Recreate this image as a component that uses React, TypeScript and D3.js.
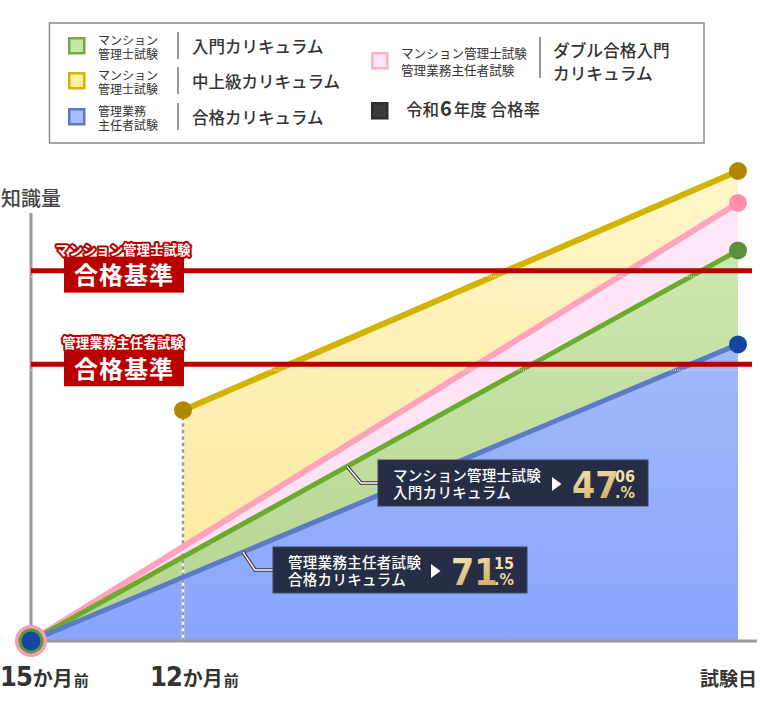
import React, { useRef, useEffect } from 'react';
import * as d3 from 'd3';

// x: months before the exam
const xLabelNums = ['15', '12'];
const xLabelTail = ['か月', '前'];
const xLabelMonths = [15, 12];
const examDayLabel = '試験日';
const examDayMonth = 0;

// knowledge level (0-100)
const startMonths = [15, 0];
const yellowMonths = [12, 0];
const yellowValues = [49.1, 100]; // 中上級カリキュラム
const pinkValues = [0, 93.2]; // ダブル合格入門カリキュラム
const greenValues = [0, 83.1]; // 入門カリキュラム
const blueValues = [0, 63.1]; // 合格カリキュラム

const passLineExams = ['マンション管理士試験', '管理業務主任者試験'];
const passLineValues = [78.8, 58.9];
const passLineLabel = '合格基準';

const calloutExams = ['マンション管理士試験', '管理業務主任者試験'];
const calloutCourses = ['入門カリキュラム', '合格カリキュラム'];
const passRates = [47.06, 71.15];

const legendExamLines = [['マンション', '管理士試験'], ['マンション', '管理士試験'], ['管理業務', '主任者試験']];
const legendCourses = ['入門カリキュラム', '中上級カリキュラム', '合格カリキュラム'];
const doubleExamLines = ['マンション管理士試験', '管理業務主任者試験'];
const doubleCourseLines = ['ダブル合格入門', 'カリキュラム'];
const rateLegend = ['令和', '6', '年度 合格率'];

const JP = "'Noto Sans CJK JP', 'Noto Sans', sans-serif";
const NUM = "'Liberation Sans Narrow', 'DejaVu Sans Condensed', sans-serif";

export default function App() {
  const svgRef = useRef<SVGSVGElement>(null);

  useEffect(() => {
    const width = 760, height = 709;
    const svg = d3.select(svgRef.current as SVGSVGElement)
      .attr('width', width)
      .attr('height', height);
    svg.selectAll('*').remove();

    const x = d3.scaleLinear().domain([15, 12, 0]).range([31, 183, 738]);
    const y = d3.scaleLinear().domain([0, 100]).range([641, 171]);

    const defs = svg.append('defs');
    const grad = (id: string, top: string, bottom: string) => {
      const g = defs.append('linearGradient').attr('id', id)
        .attr('gradientUnits', 'userSpaceOnUse')
        .attr('x1', 0).attr('x2', 0).attr('y1', y(100)).attr('y2', y(0));
      g.append('stop').attr('offset', 0).attr('stop-color', top);
      g.append('stop').attr('offset', 1).attr('stop-color', bottom);
    };
    grad('gYellow', '#fff5c8', '#fde799');
    grad('gPink', '#ffe8f8', '#ffdff2');
    grad('gGreen', '#d3eab9', '#b3d58e');
    grad('gBlue', '#b3c4fd', '#88a5fb');
    const gold = defs.append('linearGradient').attr('id', 'gGold')
      .attr('x1', 0).attr('x2', 0.4).attr('y1', 0).attr('y2', 1);
    gold.append('stop').attr('offset', 0).attr('stop-color', '#f8ecbd');
    gold.append('stop').attr('offset', 1).attr('stop-color', '#d0b064');

    const series = [
      { months: yellowMonths, values: yellowValues, fill: 'url(#gYellow)', stroke: '#d3b300', dot: '#b08700', w: 6 },
      { months: startMonths, values: pinkValues, fill: 'url(#gPink)', stroke: '#ffa3bd', dot: '#ff8fab', w: 6 },
      { months: startMonths, values: greenValues, fill: 'url(#gGreen)', stroke: '#6aab2d', dot: '#5b8f3a', w: 5 },
      { months: startMonths, values: blueValues, fill: 'url(#gBlue)', stroke: '#5b7bc6', dot: '#1448a0', w: 5 },
    ];
    type P = [number, number];
    const pts = (s: typeof series[0]): P[] => s.months.map((m, i) => [m, s.values[i]] as P);

    const area = d3.area<P>().x(d => x(d[0])).y0(y(0)).y1(d => y(d[1]));
    const line = d3.line<P>().x(d => x(d[0])).y(d => y(d[1]));

    series.forEach(s => {
      svg.append('path').datum(pts(s)).attr('d', area as any).attr('fill', s.fill);
    });

    // axes
    svg.append('line').attr('x1', x(15)).attr('x2', x(15)).attr('y1', 213).attr('y2', y(0))
      .attr('stroke', '#999').attr('stroke-width', 3);
    svg.append('line').attr('x1', x(15)).attr('x2', 757).attr('y1', y(0)).attr('y2', y(0))
      .attr('stroke', '#999').attr('stroke-width', 3);

    // dashed guide at 12 months
    svg.append('line').attr('x1', x(12)).attr('x2', x(12)).attr('y1', y(yellowValues[0])).attr('y2', y(0))
      .attr('stroke', '#fff').attr('stroke-width', 2.5);
    svg.append('line').attr('x1', x(12)).attr('x2', x(12)).attr('y1', y(yellowValues[0])).attr('y2', y(0))
      .attr('stroke', '#9a9a9a').attr('stroke-width', 2.5).attr('stroke-dasharray', '3.5 3');

    series.forEach(s => {
      svg.append('path').datum(pts(s)).attr('d', line as any)
        .attr('fill', 'none').attr('stroke', s.stroke).attr('stroke-width', s.w);
    });

    // end dots
    series.forEach(s => {
      const p = pts(s);
      svg.append('circle').attr('cx', x(p[1][0])).attr('cy', y(p[1][1])).attr('r', 9).attr('fill', s.dot);
    });
    svg.append('circle').attr('cx', x(yellowMonths[0])).attr('cy', y(yellowValues[0])).attr('r', 9).attr('fill', series[0].dot);
    // start dot (stacked rings)
    [[16, '#ff9ab2'], [12.5, '#5a9a3a'], [9.5, '#1448a0']].forEach(([r, c]) => {
      svg.append('circle').attr('cx', x(15)).attr('cy', y(0)).attr('r', r as number).attr('fill', c as string);
    });

    // pass lines
    passLineValues.forEach((v, i) => {
      const ly = y(v);
      svg.append('line').attr('x1', x(15)).attr('x2', 752).attr('y1', ly + 6).attr('y2', ly + 6)
        .attr('stroke', '#e6e6e6').attr('stroke-width', 1).attr('stroke-dasharray', '1 1');
      svg.append('line').attr('x1', x(15)).attr('x2', 752).attr('y1', ly).attr('y2', ly)
        .attr('stroke', '#b80000').attr('stroke-width', 5);
      svg.append('rect').attr('x', 64).attr('y', ly - 14).attr('width', 120).attr('height', 36)
        .attr('fill', '#b80000');
      svg.append('text').attr('x', 124).attr('y', ly + 13.5).attr('text-anchor', 'middle')
        .attr('font-family', JP).attr('font-weight', 700).attr('font-size', 24).attr('fill', '#fff')
        .attr('letter-spacing', 1).text(passLineLabel);
      svg.append('text').attr('x', 123).attr('y', ly - 16).attr('text-anchor', 'middle')
        .attr('font-family', JP).attr('font-weight', 700).attr('font-size', 13.5).attr('fill', '#fff')
        .attr('stroke', '#b80000').attr('stroke-width', 4).attr('stroke-linejoin', 'round')
        .attr('paint-order', 'stroke').text(passLineExams[i]);
    });

    // y axis title
    svg.append('text').attr('x', 1).attr('y', 206).attr('font-family', JP).attr('font-weight', 500)
      .attr('font-size', 20).attr('fill', '#444').text('知識量');

    // x labels
    xLabelNums.forEach((n, i) => {
      const t = svg.append('text').attr('x', x(xLabelMonths[i]) - 31 + (i === 0 ? 0 : -2)).attr('y', 686)
        .attr('font-family', JP).attr('fill', '#333').attr('font-weight', 700);
      t.append('tspan').attr('font-family', NUM).attr('font-size', 27).attr('letter-spacing', -1).text(n);
      t.append('tspan').attr('font-size', 20).attr('dx', 1).text(xLabelTail[0]);
      t.append('tspan').attr('font-size', 15).attr('dx', 1).text(xLabelTail[1]);
    });
    svg.append('text').attr('x', x(examDayMonth) + 19).attr('y', 686).attr('text-anchor', 'end')
      .attr('font-family', JP).attr('font-weight', 700).attr('font-size', 19).attr('fill', '#333')
      .text(examDayLabel);

    // callouts
    const boxes = [
      { bx: 378, by: 460, bw: 270, bh: 46, ax: 347, elbowX: 361, s: series[2] },
      { bx: 273, by: 547, bw: 254, bh: 46, ax: 243, elbowX: 255, s: series[3] },
    ];
    boxes.forEach((b, i) => {
      const p = pts(b.s);
      const x0 = x(p[0][0]), x1 = x(p[1][0]);
      const ay = y(p[0][1]) + (y(p[1][1]) - y(p[0][1])) * (b.ax - x0) / (x1 - x0);
      const ly = b.by + 23;
      const lead = `M${b.ax},${ay}L${b.elbowX},${ly}L${b.bx},${ly}`;
      svg.append('path').attr('d', lead).attr('fill', 'none').attr('stroke', '#333').attr('stroke-width', 3.5);
      svg.append('path').attr('d', lead).attr('fill', 'none').attr('stroke', '#fff').attr('stroke-width', 1.5);
      svg.append('rect').attr('x', b.bx).attr('y', b.by).attr('width', b.bw).attr('height', b.bh)
        .attr('fill', '#262d45').attr('stroke', '#3d4563').attr('stroke-width', 1);
      svg.append('text').attr('x', b.bx + 15).attr('y', b.by + 20.5).attr('font-family', JP)
        .attr('font-size', 14.5).attr('font-weight', 500).attr('fill', '#fff').attr('letter-spacing', 0.3)
        .text(calloutExams[i]);
      svg.append('text').attr('x', b.bx + 15).attr('y', b.by + 38).attr('font-family', JP)
        .attr('font-size', 14.5).attr('font-weight', 500).attr('fill', '#fff').attr('letter-spacing', 0.3)
        .text(calloutCourses[i]);
      const tx = b.bx + b.bw - 96;
      svg.append('path').attr('d', `M${tx},${b.by + 17}L${tx + 9.5},${b.by + 24}L${tx},${b.by + 31}Z`).attr('fill', '#fff');
      const [intPart, decPart] = passRates[i].toFixed(2).split('.');
      svg.append('text').attr('x', tx + 20).attr('y', b.by + 37.5).attr('font-family', NUM)
        .attr('font-weight', 700).attr('font-size', 37).attr('fill', 'url(#gGold)').text(intPart);
      svg.append('text').attr('x', b.bx + b.bw - 33).attr('y', b.by + 22).attr('font-family', NUM)
        .attr('font-weight', 700).attr('font-size', 16).attr('fill', '#f0e1a8').text(decPart);
      svg.append('text').attr('x', b.bx + b.bw - 33).attr('y', b.by + 38).attr('font-family', NUM)
        .attr('font-weight', 700).attr('font-size', 16).attr('fill', '#e8d497').text('.%');
    });

    // legend
    const lg = svg.append('g');
    lg.append('rect').attr('x', 49.5).attr('y', 23).attr('width', 654.5).attr('height', 120)
      .attr('fill', '#fff').attr('stroke', '#8c8c8c').attr('stroke-width', 1.5);
    const marker = (mx: number, my: number, fill: string, stroke: string) => {
      lg.append('rect').attr('x', mx + 1.25).attr('y', my + 1.25).attr('width', 15).attr('height', 15)
        .attr('fill', fill).attr('stroke', stroke).attr('stroke-width', 2.5);
    };
    const rowTop = [37, 72, 108];
    const markerFill = [['#c8e4aa', '#72ad3c'], ['#fff0a6', '#d6b500'], ['#a7bbfd', '#5b78c4']];
    legendCourses.forEach((c, i) => {
      const t = rowTop[i];
      marker(68, t, markerFill[i][0], markerFill[i][1]);
      legendExamLines[i].forEach((l, j) => {
        lg.append('text').attr('x', 98).attr('y', t + 8 + j * 14).attr('font-family', JP)
          .attr('font-size', 12).attr('fill', '#333').text(l);
      });
      lg.append('line').attr('x1', 178).attr('x2', 178).attr('y1', t - 5).attr('y2', t + 22)
        .attr('stroke', '#555').attr('stroke-width', 1.2);
      lg.append('text').attr('x', 192).attr('y', t + 15.5).attr('font-family', JP).attr('font-weight', 500)
        .attr('font-size', 16.5).attr('fill', '#333').text(c);
    });
    marker(371, 52, '#ffe6f8', '#ffb0c6');
    doubleExamLines.forEach((l, j) => {
      lg.append('text').attr('x', 401).attr('y', 58 + j * 16.5).attr('font-family', JP)
        .attr('font-size', 12.6).attr('fill', '#333').text(l);
    });
    lg.append('line').attr('x1', 540).attr('x2', 540).attr('y1', 37).attr('y2', 78)
      .attr('stroke', '#555').attr('stroke-width', 1.2);
    doubleCourseLines.forEach((l, j) => {
      lg.append('text').attr('x', 553).attr('y', 57 + j * 23).attr('font-family', JP).attr('font-weight', 500)
        .attr('font-size', 16.7).attr('fill', '#333').text(l);
    });
    marker(371, 102, '#3b3b3b', '#2e2e2e');
    const rt = lg.append('text').attr('x', 406).attr('y', 116).attr('font-family', JP).attr('font-weight', 500)
      .attr('font-size', 16.5).attr('fill', '#333');
    rt.append('tspan').text(rateLegend[0]);
    rt.append('tspan').attr('font-weight', 700).attr('font-size', 20).attr('dx', 1).text(rateLegend[1]);
    rt.append('tspan').attr('dx', 2).text(rateLegend[2]);
  }, []);

  return <svg ref={svgRef} style={{ position: 'absolute', left: 0, top: 0, background: '#fff' }} />;
}
